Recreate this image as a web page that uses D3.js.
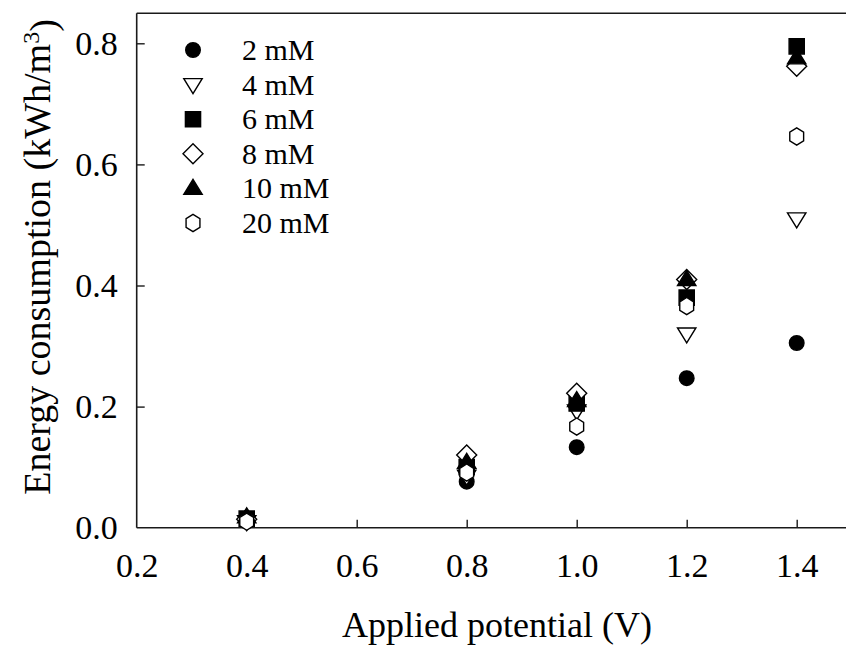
<!DOCTYPE html>
<html>
<head>
<meta charset="utf-8">
<script src="https://cdn.jsdelivr.net/npm/d3@7"></script>
<style>
  html, body { margin: 0; padding: 0; background: #fff; }
  svg { display: block; }
  text { font-family: "Liberation Serif", "Times New Roman", serif; fill: #000; }
</style>
</head>
<body>
<svg id="chart" width="846" height="649"></svg>
<script>
// ---- data ----
const potential = [0.4, 0.8, 1.0, 1.2, 1.4];
const series2mM  = [0.012, 0.076, 0.133, 0.247, 0.305];
const series4mM  = [0.010, 0.085, 0.193, 0.320, 0.510];
const series6mM  = [0.015, 0.100, 0.205, 0.380, 0.795];
const series8mM  = [0.014, 0.120, 0.222, 0.410, 0.762];
const series10mM = [0.018, 0.108, 0.210, 0.410, 0.776];
const series20mM = [0.010, 0.091, 0.167, 0.366, 0.646];
const seriesNames = ["2 mM", "4 mM", "6 mM", "8 mM", "10 mM", "20 mM"];
const xTicks = [0.2, 0.4, 0.6, 0.8, 1.0, 1.2, 1.4];
const yTicks = [0.0, 0.2, 0.4, 0.6, 0.8];

const allSeries = [series2mM, series4mM, series6mM, series8mM, series10mM, series20mM];
const shapes = ["circle", "triangleDown", "square", "diamond", "triangleUp", "hexagon"];
const filled = [true, false, true, false, true, false];

// ---- layout ----
const svg = d3.select("#chart");
const mLeft = 136.7, mTop = 13.3, mBottom = 527.7;
const x = d3.scaleLinear().domain([0.2, 1.5]).range([mLeft, mLeft + 550 * 1.3]);
const y = d3.scaleLinear().domain([0, 0.85]).range([mBottom, mBottom - 605.5 * 0.85]);

// symbol paths
function shapePath(type) {
  switch (type) {
    case "circle": { const r = 7.3; return `M${-r},0A${r},${r} 0 1,0 ${r},0A${r},${r} 0 1,0 ${-r},0Z`; }
    case "square": { const h = 7.6; return `M${-h},${-h}H${h}V${h}H${-h}Z`; }
    case "diamond": { const h = 10; return `M0,${-h}L${h},0L0,${h}L${-h},0Z`; }
    case "triangleUp": { const w = 9.2, h = 15; return `M0,${-h*0.6}L${w},${h*0.4}L${-w},${h*0.4}Z`; }
    case "triangleDown": { const w = 9.2, h = 15; return `M0,${h*0.6}L${w},${-h*0.4}L${-w},${-h*0.4}Z`; }
    case "hexagon": {
      const r = 8.6; const pts = [];
      for (let i = 0; i < 6; i++) { const a = Math.PI / 3 * i - Math.PI / 2; pts.push([r * Math.cos(a) * 0.93, r * Math.sin(a)]); }
      return "M" + pts.map(p => p.join(",")).join("L") + "Z";
    }
  }
}

// ---- axes ----
const axisColor = "#1a1a1a";
const tickFont = "34px";
const xAxis = d3.axisBottom(x).tickValues(xTicks).tickSizeInner(-8).tickSizeOuter(0).tickPadding(25)
  .tickFormat(d3.format(".1f"));
const gx = svg.append("g").attr("transform", `translate(0,${mBottom})`).call(xAxis);
gx.selectAll(".tick").filter(d => d === 0.2).select("line").remove();

const yAxis = d3.axisLeft(y).tickValues(yTicks).tickSizeInner(-8).tickSizeOuter(0).tickPadding(19)
  .tickFormat(d3.format(".1f"));
const gy = svg.append("g").attr("transform", `translate(${mLeft},0)`).call(yAxis);
gy.selectAll(".tick").filter(d => d === 0).select("line").remove();

gy.select(".domain").remove();
gx.select(".domain").remove();
svg.append("line").attr("x1", mLeft).attr("x2", mLeft).attr("y1", mTop).attr("y2", mBottom)
  .attr("stroke", axisColor).attr("stroke-width", 1.6);
svg.append("line").attr("x1", mLeft).attr("x2", x(1.5)).attr("y1", mBottom).attr("y2", mBottom)
  .attr("stroke", axisColor).attr("stroke-width", 1.6);
svg.append("line").attr("x1", mLeft).attr("x2", x(1.5)).attr("y1", mTop).attr("y2", mTop)
  .attr("stroke", axisColor).attr("stroke-width", 1.6);

[gx, gy].forEach(g => {
  g.selectAll(".tick line").attr("stroke", axisColor).attr("stroke-width", 1.4);
  g.selectAll(".tick text").style("font-family", '"Liberation Serif", serif').style("font-size", tickFont).attr("fill", "#000");
});
gx.selectAll(".tick text").attr("dy", "0.71em");

// ---- points ----
allSeries.forEach((vals, si) => {
  svg.append("g").selectAll("path").data(vals).join("path")
    .attr("d", shapePath(shapes[si]))
    .attr("transform", (d, i) => `translate(${x(potential[i])},${y(d)})`)
    .attr("fill", filled[si] ? "#000" : "#fff")
    .attr("stroke", "#000")
    .attr("stroke-width", 1.4);
});

// ---- legend ----
const legend = svg.append("g");
seriesNames.forEach((name, i) => {
  const cy = 50 + i * 34.6;
  legend.append("path").attr("d", shapePath(shapes[i]))
    .attr("transform", `translate(193,${cy})`)
    .attr("fill", filled[i] ? "#000" : "#fff").attr("stroke", "#000").attr("stroke-width", 1.4);
  legend.append("text").attr("x", 242).attr("y", cy + 10).style("font-size", "30px").text(name);
});

// ---- axis titles ----
svg.append("text").attr("x", 497).attr("y", 637)
  .attr("text-anchor", "middle").style("font-size", "36px").text("Applied potential (V)");

const yt = svg.append("text").attr("transform", `translate(50,257) rotate(-90)`)
  .attr("text-anchor", "middle").style("font-size", "38px");
yt.append("tspan").text("Energy consumption (kWh/m");
yt.append("tspan").attr("dy", "-0.45em").style("font-size", "24px").text("3");
yt.append("tspan").attr("dy", "0.45em").text(")");
</script>
</body>
</html>
